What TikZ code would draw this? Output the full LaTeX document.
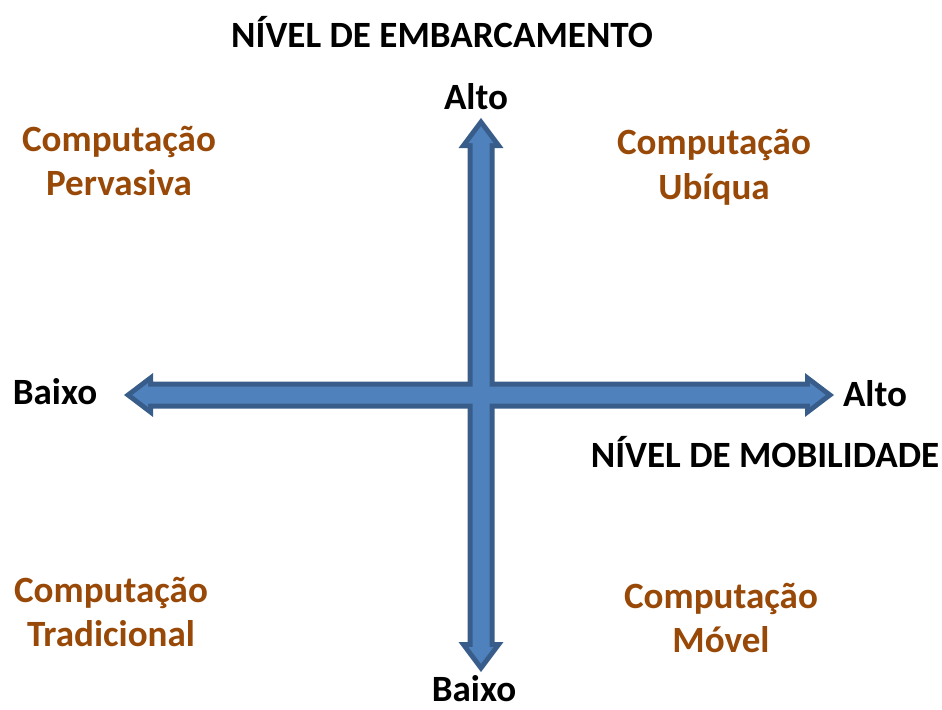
\documentclass[tikz,border=0pt]{standalone}
\usepackage{fontspec}
\setmainfont{Carlito}
\definecolor{azulSeta}{HTML}{4F81BD}
\definecolor{bordaSeta}{HTML}{385D8A}
\definecolor{marrom}{HTML}{984807}
\tikzset{
  rotulo/.style={font=\fontsize{27.8}{33.5}\selectfont\bfseries, text=black, inner sep=0pt},
  quadrante/.style={rotulo, text=marrom, align=center},
  setaBorda/.style={draw=bordaSeta, line width=7.5pt, line join=miter},
  setaMiolo/.style={fill=azulSeta}
}
% contornos internos das duas setas duplas
\newcommand{\setaVertical}{(481,126.3) -- (493.5,143) -- (489.5,143) -- (489.5,647)
  -- (493.5,647) -- (481,663.7) -- (468.5,647) -- (472.5,647) -- (472.5,143)
  -- (468.5,143) -- cycle}
\newcommand{\setaHorizontal}{(132.3,395) -- (148,383.1) -- (148,386.5) -- (810,386.5)
  -- (810,383.1) -- (825.7,395) -- (810,406.9) -- (810,403.5) -- (148,403.5)
  -- (148,406.9) -- cycle}
\begin{document}
\begin{tikzpicture}[x=0.75pt,y=-0.75pt]
\useasboundingbox (0,0) rectangle (942,710);

% setas: primeiro as bordas, depois o miolo
\draw[setaBorda] \setaVertical;
\draw[setaBorda] \setaHorizontal;
\fill[setaMiolo] \setaVertical;
\fill[setaMiolo] \setaHorizontal;

% eixo vertical
\node[rotulo] (titulo) at (442,32) {NÍVEL DE EMBARCAMENTO};
\node[rotulo] (altoEmb) at (476,97) {Alto};
\node[rotulo] (baixoEmb) at (474,688.5) {Baixo};

% eixo horizontal
\node[rotulo] (baixoMob) at (55,392) {Baixo};
\node[rotulo] (altoMob) at (875,394) {Alto};
\node[rotulo] (tituloMob) at (765,452) {NÍVEL DE MOBILIDADE};

% quadrantes
\node[quadrante] (pervasiva) at (119,161) {Computação\\Pervasiva};
\node[quadrante] (ubiqua) at (714,167) {Computação\\Ubíqua};
\node[quadrante] (tradicional) at (111,612) {Computação\\Tradicional};
\node[quadrante] (movel) at (721,618) {Computação\\Móvel};
\end{tikzpicture}
\end{document}
